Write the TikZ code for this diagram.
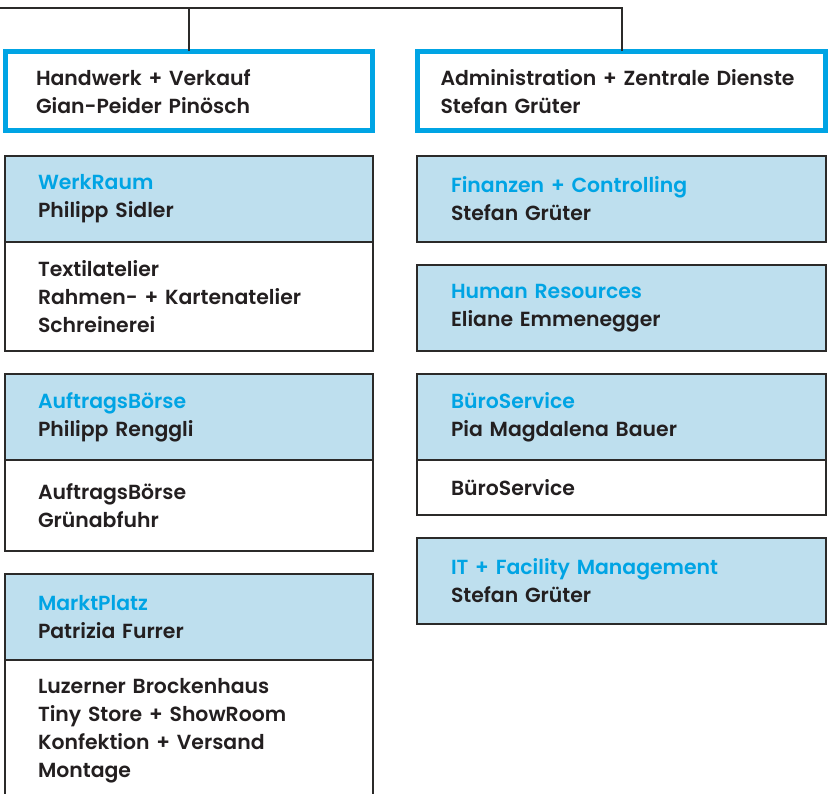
\documentclass[tikz,border=0pt]{standalone}
\usepackage{fontspec}
\setmainfont{Poppins SemiBold}
\usepackage{xcolor}
\usetikzlibrary{positioning}
\definecolor{orgblue}{HTML}{00A4E4}
\definecolor{headfill}{HTML}{BEDFEE}
\definecolor{linegray}{HTML}{2B2A29}
\definecolor{txtdark}{HTML}{231F20}

\begin{document}
\begin{tikzpicture}[
  x=1pt, y=-1pt,
  font=\fontsize{20.4}{28}\selectfont,
  every node/.style={outer sep=0pt, text=txtdark},
  unit/.style={rectangle, draw=orgblue, line width=5pt, fill=white, minimum height=79.5pt, align=left, anchor=north west},
  head/.style={rectangle, draw=linegray, line width=2pt, fill=headfill, minimum height=86pt, align=left},
  body/.style={rectangle, draw=linegray, line width=2pt, fill=white, align=left},
  lcol/.style={text width=302pt, inner xsep=33pt},
  rcol/.style={text width=341pt, inner xsep=34pt},
  conn/.style={draw=linegray, line width=2pt},
]
  \clip (0,0) rectangle (828,794);
  \useasboundingbox (0,0) rectangle (828,794);

  % top level units
  \node[unit, text width=306pt, inner xsep=30.5pt] (hw) at (5.5,51.5) {Handwerk + Verkauf\\Gian-Peider Pinösch};
  \node[unit, text width=362pt, inner xsep=23pt] (adm) at (417.5,51.5) {Administration + Zentrale Dienste\\Stefan Grüter};

  \coordinate (root) at (0,8);
  \draw[conn] (root) -| (hw.north);
  \draw[conn] (root) -| (adm.north);

  % left column
  \node[head, lcol, below=25pt of hw] (werk) {\textcolor{orgblue}{WerkRaum}\\Philipp Sidler};
  \node[body, lcol, minimum height=109pt, below=0pt of werk] (werkb) {Textilatelier\\Rahmen- + Kartenatelier\\Schreinerei};
  \node[head, lcol, below=23pt of werkb] (auftrag) {\textcolor{orgblue}{AuftragsBörse}\\Philipp Renggli};
  \node[body, lcol, minimum height=91pt, below=0pt of auftrag] (auftragb) {AuftragsBörse\\Grünabfuhr};
  \node[head, lcol, below=23pt of auftragb] (markt) {\textcolor{orgblue}{MarktPlatz}\\Patrizia Furrer};
  \node[body, lcol, minimum height=142pt, below=0pt of markt] (marktb) {Luzerner Brockenhaus\\Tiny Store + ShowRoom\\Konfektion + Versand\\Montage};

  % right column
  \node[head, rcol, below=25pt of adm] (fin) {\textcolor{orgblue}{Finanzen + Controlling}\\Stefan Grüter};
  \node[head, rcol, below=23pt of fin] (hr) {\textcolor{orgblue}{Human Resources}\\Eliane Emmenegger};
  \node[head, rcol, below=23pt of hr] (buero) {\textcolor{orgblue}{BüroService}\\Pia Magdalena Bauer};
  \node[body, rcol, minimum height=55pt, below=0pt of buero] (buerob) {BüroService};
  \node[head, rcol, below=23pt of buerob] (it) {\textcolor{orgblue}{IT + Facility Management}\\Stefan Grüter};
\end{tikzpicture}
\end{document}
